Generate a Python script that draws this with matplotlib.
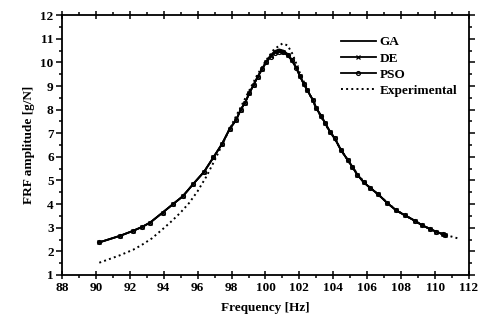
import numpy as np
import matplotlib
matplotlib.use("Agg")
import matplotlib.pyplot as plt
from matplotlib.ticker import MultipleLocator

plt.rcParams['font.family'] = ['Liberation Serif', 'DejaVu Serif']
plt.rcParams['font.weight'] = 'bold'

# fitted curves (frequency in Hz, amplitude in g/N)
freq_fit = [90.2, 91.43, 92.16, 92.71, 93.2, 93.93, 94.53, 95.12, 95.75, 96.38,
            96.93, 97.44, 97.9, 98.26, 98.54, 98.8, 99.05, 99.3, 99.55, 99.8,
            100.05, 100.3, 100.55, 100.8, 101.05, 101.3, 101.55, 101.8, 102.03, 102.25,
            102.46, 102.8, 103.0, 103.27, 103.5, 103.8, 104.09, 104.44, 104.84, 105.13,
            105.42, 105.8, 106.15, 106.64, 107.19, 107.72, 108.21, 108.8, 109.25, 109.72,
            110.08, 110.47, 110.6]
ga_amp = [2.38, 2.66, 2.86, 3.03, 3.22, 3.64, 3.99, 4.33, 4.86, 5.37,
          5.98, 6.55, 7.2, 7.55, 8.0, 8.3, 8.7, 9.05, 9.4, 9.73,
          10.05, 10.3, 10.48, 10.55, 10.5, 10.36, 10.12, 9.8, 9.42, 9.1,
          8.83, 8.4, 8.05, 7.75, 7.45, 7.07, 6.78, 6.3, 5.88, 5.57,
          5.24, 4.92, 4.7, 4.42, 4.04, 3.73, 3.53, 3.3, 3.1, 2.94,
          2.83, 2.72, 2.68]
de_amp = [2.38, 2.66, 2.86, 3.03, 3.22, 3.64, 3.99, 4.33, 4.86, 5.37,
          5.98, 6.55, 7.2, 7.55, 8.0, 8.3, 8.7, 9.05, 9.4, 9.72,
          10.02, 10.25, 10.42, 10.47, 10.45, 10.32, 10.1, 9.8, 9.42, 9.1,
          8.83, 8.4, 8.05, 7.75, 7.45, 7.07, 6.78, 6.3, 5.88, 5.57,
          5.24, 4.92, 4.7, 4.42, 4.04, 3.73, 3.53, 3.3, 3.1, 2.94,
          2.83, 2.72, 2.68]
pso_amp = [2.38, 2.66, 2.86, 3.03, 3.22, 3.64, 3.99, 4.33, 4.86, 5.37,
           5.98, 6.55, 7.2, 7.55, 8.0, 8.3, 8.7, 9.05, 9.4, 9.71,
           10.0, 10.23, 10.4, 10.44, 10.42, 10.3, 10.08, 9.78, 9.42, 9.1,
           8.83, 8.4, 8.05, 7.75, 7.45, 7.07, 6.78, 6.3, 5.88, 5.57,
           5.24, 4.92, 4.7, 4.42, 4.04, 3.73, 3.53, 3.3, 3.1, 2.94,
           2.83, 2.72, 2.68]

# experimental FRF
freq_exp = [90.2, 91.4, 92.2, 92.7, 93.3, 94.0, 94.5, 95.0, 95.5, 96.0,
            96.5, 97.0, 97.5, 98.0, 98.5, 99.0, 99.5, 100.0, 100.5, 101.0,
            101.3, 101.6, 102.0, 102.5, 103.0, 103.5, 104.0, 104.5, 105.0, 105.5,
            106.0, 106.5, 107.0, 107.5, 108.0, 108.5, 109.0, 109.5, 110.0, 110.5,
            111.0, 111.4]
exp_amp = [1.52, 1.83, 2.07, 2.27, 2.55, 2.98, 3.3, 3.65, 4.05, 4.55,
           5.15, 5.85, 6.6, 7.35, 8.05, 8.75, 9.45, 10.05, 10.55, 10.8,
           10.72, 10.35, 9.6, 8.8, 8.05, 7.4, 6.85, 6.25, 5.7, 5.2,
           4.8, 4.5, 4.18, 3.87, 3.62, 3.42, 3.2, 3.02, 2.85, 2.72,
           2.62, 2.54]

fig = plt.figure(figsize=(4.82, 3.22), dpi=100)
ax = fig.add_axes([0.1286, 0.146, 0.8444, 0.807])

ax.plot(freq_fit, ga_amp, '-', color='black', lw=1.3, label='GA')
ax.plot(freq_fit, de_amp, '-', color='black', lw=1.3, marker='x', ms=3, mew=0.9, label='DE')
ax.plot(freq_fit, pso_amp, '-', color='black', lw=1.3, marker='o', ms=2.8, mfc='none', mew=0.9, label='PSO')
ax.plot(freq_exp, exp_amp, ':', color='black', lw=1.4, label='Experimental')

ax.set_xlim(88, 112)
ax.set_ylim(1, 12)
ax.xaxis.set_major_locator(MultipleLocator(2))
ax.xaxis.set_minor_locator(MultipleLocator(1))
ax.yaxis.set_major_locator(MultipleLocator(1))
ax.yaxis.set_minor_locator(MultipleLocator(0.5))
ax.tick_params(which='both', direction='out', top=True, right=True,
               labeltop=False, labelright=False, labelsize=9.5, width=1.1, pad=2)
ax.tick_params(which='major', length=4)
ax.tick_params(which='minor', length=2.5)
ax.tick_params(axis='x', which='major', direction='inout', length=6)
for s in ax.spines.values():
    s.set_linewidth(1.3)

ax.set_xlabel('Frequency [Hz]', fontsize=9.5, fontweight='bold', labelpad=6)
ax.set_ylabel('FRF amplitude [g/N]', fontsize=9.5, fontweight='bold', labelpad=4)

leg = ax.legend(loc='upper right', bbox_to_anchor=(1.0, 0.965), frameon=False,
                fontsize=9.5, handlelength=2.6, handletextpad=0.3, labelspacing=0.3)

fig.savefig('out.png', dpi=100)
